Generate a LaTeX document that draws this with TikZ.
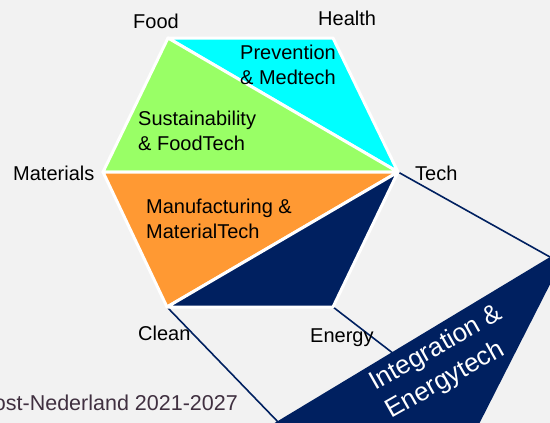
\documentclass[tikz,border=0pt]{standalone}
\usepackage{fontspec}
\setmainfont{Liberation Sans}
\definecolor{bgc}{HTML}{F2F2F2}
\definecolor{cyanr}{HTML}{00FFFF}
\definecolor{greenr}{HTML}{99FF66}
\definecolor{oranger}{HTML}{FF9933}
\definecolor{navyr}{HTML}{002060}
\definecolor{footc}{HTML}{403040}
\begin{document}
\begin{tikzpicture}[x=1pt,y=-1pt,
  region/.style={draw=white,line width=3pt,line join=round},
  thinline/.style={draw=navyr,line width=1.6pt},
  lbl/.style={inner sep=0pt,text=black,font=\fontsize{20}{25}\selectfont},
  multi/.style={lbl,align=left,anchor=north west},
  whitetxt/.style={inner sep=0pt,text=white,align=left,font=\fontsize{26}{32}\selectfont}]
\useasboundingbox (0,0) rectangle (550,423);
\clip (0,0) rectangle (550,423);
\fill[bgc] (0,0) rectangle (550,423);
% hexagon corners
\coordinate (food) at (168,38);
\coordinate (health) at (333,38);
\coordinate (tech) at (398,172);
\coordinate (energy) at (333,307);
\coordinate (clean) at (167,307);
\coordinate (mat) at (103,172);
% callout ends
\coordinate (t1) at (550,257);
\coordinate (t2) at (280,424);
\coordinate (t3) at (394,354);
\coordinate (k1) at (570,245);
\coordinate (k2) at (263,430);
\coordinate (k3) at (476,430);
% connector lines
\draw[thinline] (tech) -- (t1);
\draw[thinline] (clean) -- (t2);
\draw[thinline] (energy) -- (t3);
% regions
\filldraw[region,fill=cyanr] (food) -- (health) -- (tech) -- cycle;
\filldraw[region,fill=greenr] (food) -- (tech) -- (mat) -- cycle;
\filldraw[region,fill=oranger] (mat) -- (tech) -- (clean) -- cycle;
\filldraw[region,fill=navyr] (clean) -- (tech) -- (energy) -- cycle;
% callout
\fill[navyr] (k1) -- (k2) -- (k3) -- cycle;
% labels
\node[lbl,anchor=base west] (lfood) at (133,28) {Food};
\node[lbl,anchor=base west] (lhealth) at (318,26) {Health};
\node[lbl,anchor=base west] (lmat) at (13,180) {Materials};
\node[lbl,anchor=base west] (ltech) at (415,180) {Tech};
\node[lbl,anchor=base west] (lclean) at (138,340) {Clean};
\node[lbl,anchor=base west] (lenergy) at (310,342) {Energy};
\node[multi] (tprev) at (240,45) {Prevention\\\& Medtech};
\node[multi] (tsus) at (138,111) {Sustainability\\\& FoodTech};
\node[multi] (tman) at (146,199) {Manufacturing \&\\MaterialTech};
\node[whitetxt,rotate=29.5,anchor=west] (tint) at (380,399) {Integration \&\\Energytech};
\node[inner sep=0pt,text=footc,font=\fontsize{21.5}{26}\selectfont,anchor=base east] (lfoot) at (238,410) {Oost-Nederland 2021-2027};
\end{tikzpicture}
\end{document}
